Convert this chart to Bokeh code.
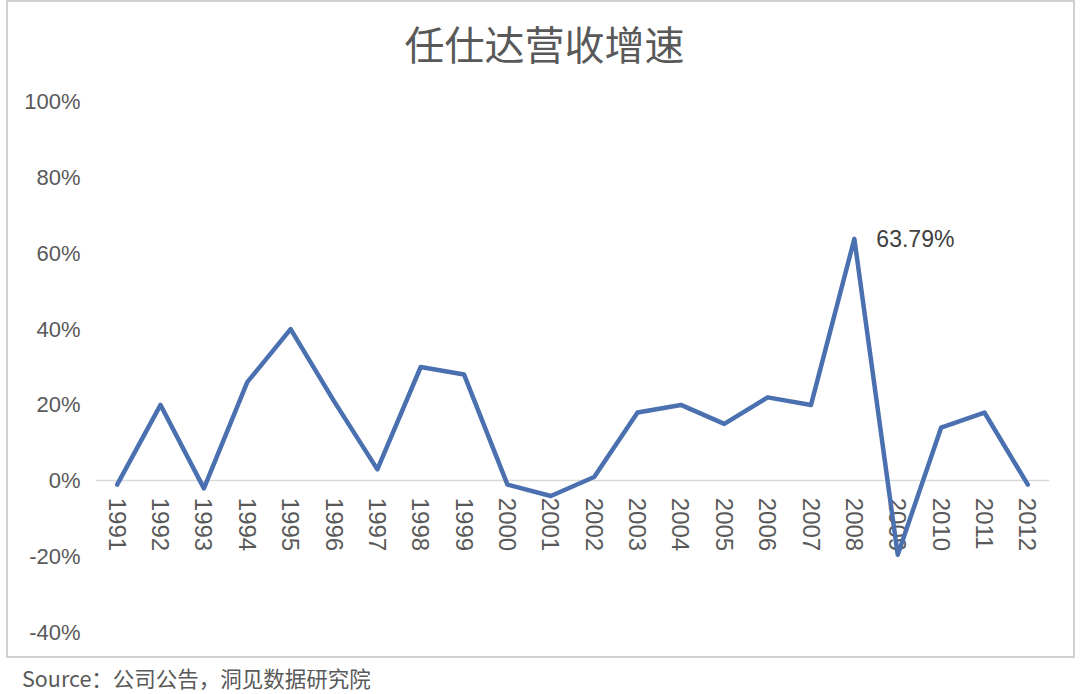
from bokeh.plotting import figure
from bokeh.models import Range1d, FactorRange, FixedTicker, Div, ColumnDataSource
from bokeh.layouts import column
from bokeh.core.properties import value
from bokeh.embed import file_html
from bokeh.resources import INLINE

# ---- data ----
years = [str(y) for y in range(1991, 2013)]
growth = [-1, 20, -2, 26, 40, 21, 3, 30, 28, -1, -4, 1, 18, 20, 15, 22, 20, 63.79, -19.5, 14, 18, -1]
y_ticks = [-40, -20, 0, 20, 40, 60, 80, 100]
y_tick_labels = [f"{t}%" for t in y_ticks]
title_text = "任仕达营收增速"
source_text = "Source：公司公告，洞见数据研究院"

TEXT = "#595959"
LINE = "#4a70b0"
FONT = "Liberation Sans"

title_div = Div(text=title_text, width=1063, height=63,
                styles={"text-align": "center", "font-size": "40px",
                        "font-family": "Noto Sans CJK SC", "color": TEXT,
                        "line-height": "1", "padding-top": "16px",
                        "box-sizing": "border-box"})

p = figure(
    width=1063, height=591,
    x_range=FactorRange(factors=years),
    y_range=Range1d(-40, 100),
    output_backend="svg", toolbar_location=None,
    min_border_left=87, min_border_right=22,
    min_border_bottom=34, min_border_top=26,
)
p.outline_line_color = None
p.border_fill_color = None
p.grid.visible = False

# y axis
p.yaxis.ticker = FixedTicker(ticks=y_ticks)
p.yaxis.major_label_overrides = {t: l for t, l in zip(y_ticks, y_tick_labels)}
p.yaxis.axis_line_color = None
p.yaxis.major_tick_line_color = None
p.yaxis.minor_tick_line_color = None
p.yaxis.major_label_standoff = 9
p.yaxis.major_label_text_font = FONT
p.yaxis.major_label_text_font_size = "22px"
p.yaxis.major_label_text_color = TEXT

# x axis at zero
p.xaxis.fixed_location = 0
p.xaxis.axis_line_color = "#d9d9d9"
p.xaxis.axis_line_width = 1.5
p.xaxis.major_tick_line_color = None
p.xaxis.minor_tick_line_color = None
p.xaxis.major_label_orientation = "vertical"
p.xaxis.major_label_standoff = 11
p.xaxis.major_label_text_font = FONT
p.xaxis.major_label_text_font_size = "24px"
p.xaxis.major_label_text_color = TEXT
p.xaxis.level = "underlay"

src = ColumnDataSource(data=dict(x=years, y=growth))
p.line("x", "y", source=src, line_color=LINE, line_width=4.5,
       line_join="round", line_cap="round")

imax = growth.index(max(growth))
p.text(x=[years[imax]], y=[growth[imax]], text=[f"{growth[imax]:.2f}%"],
       x_offset=22, text_align="left", text_baseline="middle",
       text_font=value(FONT), text_font_size="23px", text_color="#404040")

chart = column(title_div, p, spacing=0, width=1069, height=658,
               styles={"border": "2px solid #d0d0d0", "margin-left": "6px",
                       "background-color": "white",
                       "box-sizing": "border-box"})

div = Div(text=source_text, width=600, height=30,
          styles={"font-size": "21.5px", "color": TEXT,
                  "font-family": "Noto Sans CJK SC", "margin-left": "22px",
                  "margin-top": "5px"})

layout = column(chart, div, spacing=0)
open("out.html", "w").write(file_html(layout, INLINE))
